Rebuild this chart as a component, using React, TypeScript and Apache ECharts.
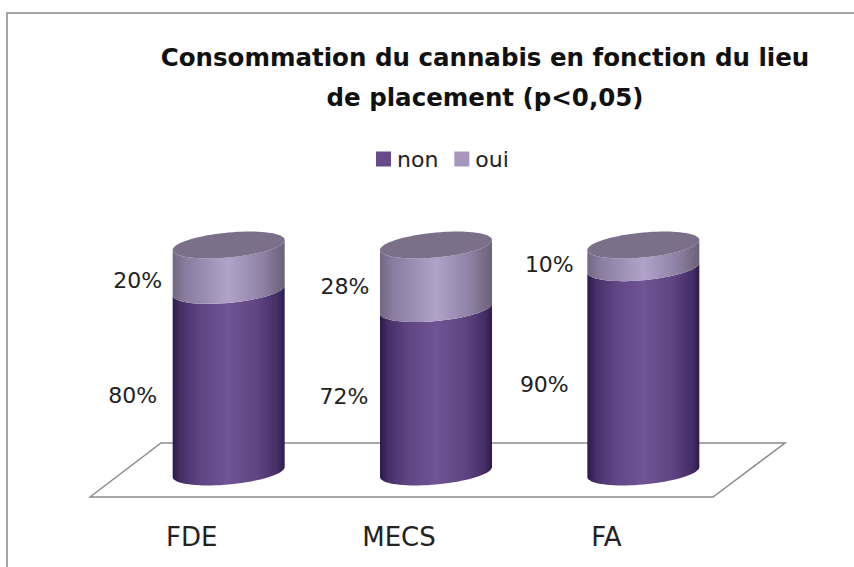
import React, { useEffect, useRef } from "react";
import * as echarts from "echarts";

const categories = ["FDE", "MECS", "FA"];
const nonValues = [80, 72, 90];
const ouiValues = [20, 28, 10];
const titleLines = "Consommation du cannabis en fonction du lieu\nde placement (p<0,05)";

// label nudges in pixels, per category: [non dx, non dy, oui dx, oui dy]
const labelNudges = [
  [-96, 14, -91, 13],
  [-92, 6, -91, 10],
  [-99, 15, -94, 8],
];

const DEPTH_X = 37;
const DEPTH_Y = -25;
const RX = 56;
const RY = 12.5;
const SKEW = 5;

const ellipsePoint = (cx: number, cy: number, t: number) => [
  cx + RX * Math.cos(t),
  cy + RY * Math.sin(t) - SKEW * Math.cos(t),
];

const arcPoints = (cx: number, cy: number, from: number, to: number, n = 40) => {
  const pts: number[][] = [];
  for (let i = 0; i <= n; i++) pts.push(ellipsePoint(cx, cy, from + ((to - from) * i) / n));
  return pts;
};

const hGrad = (stops: [number, string][]) =>
  new echarts.graphic.LinearGradient(0, 0, 1, 0, stops.map(([offset, color]) => ({ offset, color })));

const nonStops: [number, string][] = [
  [0, "#2c1a4a"],
  [0.08, "#46306a"],
  [0.26, "#614685"],
  [0.5, "#705493"],
  [0.76, "#5f4482"],
  [0.94, "#432d64"],
  [1, "#2e1c4c"],
];
const ouiStops: [number, string][] = [
  [0, "#736782"],
  [0.12, "#8b7da0"],
  [0.5, "#b1a2ca"],
  [0.8, "#8f81a5"],
  [1, "#6b6078"],
];

const segment = (api: any, lowKey: number, highKey: number, stops: [number, string][], cap: boolean, label: string, nudge: number[]) => {
  const [x0, y0] = api.coord([api.value(0), lowKey]);
  const [, y1] = api.coord([api.value(0), highKey]);
  const cx = x0 + DEPTH_X;
  const low = y0 + DEPTH_Y;
  const high = y1 + DEPTH_Y;
  const side = [...arcPoints(cx, high, Math.PI, 0), ...arcPoints(cx, low, 0, Math.PI)];
  const children: any[] = [
    { type: "polygon", shape: { points: side }, style: { fill: hGrad(stops) } },
  ];
  if (cap) {
    children.push({
      type: "polygon",
      shape: { points: arcPoints(cx, high, 0, Math.PI * 2, 80) },
      style: { fill: "#7b6f89" },
    });
  }
  children.push({
    type: "text",
    style: {
      text: label,
      x: cx + nudge[0],
      y: (low + high) / 2 + nudge[1],
      align: "center",
      verticalAlign: "middle",
      font: '22px "DejaVu Sans"',
      fill: "#222222",
    },
  });
  return { type: "group", children };
};

export default function App() {
  const ref = useRef<HTMLDivElement>(null);
  useEffect(() => {
    const chart = echarts.init(ref.current!, null, { renderer: "svg" });
    chart.setOption({
      animation: false,
      backgroundColor: "#ffffff",
      title: {
        text: titleLines,
        left: 480,
        top: 32,
        textAlign: "center",
        textStyle: {
          fontFamily: '"DejaVu Sans"',
          fontWeight: "bold",
          fontSize: 24.5,
          lineHeight: 40,
          color: "#111111",
        },
      },
      legend: {
        data: [
          { name: "non", itemStyle: { color: "#664a8a" } },
          { name: "oui", itemStyle: { color: "#a796be" } },
        ],
        left: 371,
        top: 143,
        icon: "rect",
        itemWidth: 15,
        itemHeight: 15,
        itemGap: 16,
        textStyle: { fontFamily: '"DejaVu Sans"', fontSize: 22, color: "#222222", padding: [0, 0, 0, 1] },
      },
      grid: { left: 88, top: 270, width: 622, height: 227 },
      xAxis: {
        type: "category",
        data: categories,
        axisLine: { show: false },
        axisTick: { show: false },
        axisLabel: { margin: 27, fontFamily: '"DejaVu Sans"', fontSize: 26, color: "#222222" },
      },
      yAxis: { type: "value", min: 0, max: 100, show: false, splitLine: { show: false } },
      series: [
        {
          type: "custom",
          name: "floor",
          silent: true,
          z: 1,
          data: [[0]],
          renderItem: (params: any) => {
            const { x, y, width, height } = params.coordSys;
            const b = y + height;
            return {
              type: "polygon",
              shape: {
                points: [
                  [x + 2, b],
                  [x + 2 + 71, b - 54],
                  [x + width + 75, b - 54],
                  [x + width + 3, b],
                ],
              },
              style: { fill: "#ffffff", stroke: "#8c8c8c", lineWidth: 1.5 },
            };
          },
        },
        {
          type: "custom",
          name: "non",
          z: 2,
          itemStyle: { color: "#664a8a" },
          data: categories.map((_, i) => [i, nonValues[i]]),
          renderItem: (params: any, api: any) =>
            segment(api, 0, api.value(1), nonStops, false, `${nonValues[params.dataIndex]}%`, labelNudges[params.dataIndex].slice(0, 2)),
        },
        {
          type: "custom",
          name: "oui",
          z: 3,
          itemStyle: { color: "#a796be" },
          data: categories.map((_, i) => [i, nonValues[i], nonValues[i] + ouiValues[i]]),
          renderItem: (params: any, api: any) =>
            segment(api, api.value(1), api.value(2), ouiStops, true, `${ouiValues[params.dataIndex]}%`, labelNudges[params.dataIndex].slice(2)),
        },
      ],
      graphic: [
        {
          type: "polyline",
          shape: { points: [[7, 567], [7, 13], [854, 13]] },
          style: { stroke: "#a6a6a6", lineWidth: 2, fill: "none" },
        },
      ],
    });
    return () => chart.dispose();
  }, []);
  return <div ref={ref} style={{ position: "fixed", left: 0, top: 0, width: 854, height: 567 }} />;
}
